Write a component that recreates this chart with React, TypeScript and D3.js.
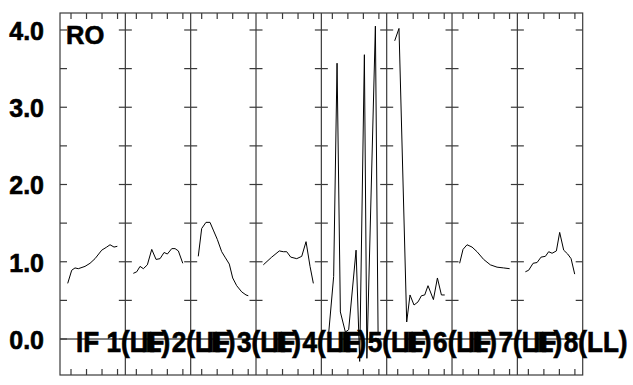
import React from "react";
import * as d3 from "d3";

// ---- data ----
const panelNames = ["1", "2", "3", "4", "5", "6", "7", "8"];
const labelPrefix = "IF ";
const labelSuffix = "(LL)";
const cornerLabel = "RO";
const yTickValues = [0, 0.5, 1, 1.5, 2, 2.5, 3, 3.5, 4];
const yLabelValues = [0, 1, 2, 3, 4];
const xTickValues = [11, 26.5, 42, 57.5];

// series: [x (local sample position), value]
const s1: [number, number][] = [[7.7,0.72],[11.7,0.89],[15,0.92],[18.3,0.91],[25,0.94],[30,0.98],[35,1.04],[41.7,1.15],[46.7,1.19],[50,1.22],[54,1.19],[57.3,1.2]];
const s2: [number, number][] = [[8,0.85],[11.4,0.87],[14.7,0.94],[18,0.91],[22,0.96],[26.4,1.16],[30.7,1.03],[34.7,1.04],[38.7,1.12],[42,1.1],[46.4,1.17],[49.7,1.17],[53,1.14],[57.4,0.98]];
const s3: [number, number][] = [[7.6,1.07],[11,1.43],[15.3,1.51],[19.3,1.51],[22.6,1.41],[26.6,1.29],[31,1.13],[34.3,1.06],[38.6,0.97],[42,0.79],[46,0.69],[51,0.61],[55.3,0.57],[57.6,0.56]];
const s4: [number, number][] = [[7.3,0.96],[15.7,1.06],[23.3,1.14],[27.3,1.13],[30.7,1.13],[34.7,1.06],[40.7,1.04],[45.7,1.07],[50,1.26],[54,0.94],[57.3,0.72]];
const s5: [number, number][] = [[7.3,0.07],[12.3,0.81],[15.7,3.57],[19,0.35],[24,0.09],[27.3,0.12],[34.7,1.15],[38.3,-0.29],[43,3.68],[45.5,-0.25],[54,4.05],[56.7,0.07]];
const s6: [number, number][] = [[8,3.86],[12.3,4.02],[20,0.22],[23.3,0.57],[27.3,0.44],[31.3,0.48],[34.7,0.56],[38,0.57],[41.3,0.69],[46.7,0.51],[50.7,0.79],[54.7,0.57],[58,0.57]];
const s7: [number, number][] = [[7.6,0.98],[11,1.16],[15,1.22],[20,1.19],[25,1.13],[31.6,1.03],[38.3,0.96],[45,0.93],[51.6,0.92],[57.6,0.91]];
const s8: [number, number][] = [[8,0.87],[11.3,0.89],[15.7,0.98],[19.7,0.99],[23.7,1.06],[28,1.07],[31.3,1.13],[34.7,1.11],[39,1.14],[42.3,1.38],[46.3,1.15],[50.3,1.1],[53.7,1.04],[57.3,0.84]];
const seriesList = [s1, s2, s3, s4, s5, s6, s7, s8];
const xDomain: [number, number] = [0, 65.3];
const yDomain: [number, number] = [-0.466, 4.22];

const W = 633, H = 385;
const left = 60, right = 582.7, top = 13, bottom = 375;
const FONT = "'Liberation Sans', Arial, Helvetica, sans-serif";
const FRAME = "#3a3a3a";

export default function App() {
  const band = d3.scaleBand<string>().domain(panelNames).range([left, right]).paddingInner(0).paddingOuter(0);
  const pw = band.bandwidth();
  const y = d3.scaleLinear().domain(yDomain).range([bottom, top]);

  const panels = panelNames.map((name, i) => {
    const x0 = band(name)!;
    const x = d3.scaleLinear().domain(xDomain).range([x0, x0 + pw]);
    const line = d3.line<[number, number]>().x(d => x(d[0])).y(d => y(d[1]));
    return { name, i, x0, x, path: line(seriesList[i]) || "" };
  });

  const dividers = d3.range(1, panelNames.length).map(i => left + i * pw);

  return (
    <svg width={W} height={H} style={{ position: "absolute", left: 0, top: 0, background: "#fff" }}>
      <rect x={0} y={0} width={W} height={H} fill="#fff" />
      {/* zero line */}
      <line x1={left} x2={right} y1={y(0)} y2={y(0)} stroke="#000" strokeWidth={1} />
      {/* frame */}
      <rect x={left} y={top} width={right - left} height={bottom - top} fill="none" stroke={FRAME} strokeWidth={1.2} />
      {dividers.map((dx, i) => (
        <line key={"d" + i} x1={dx} x2={dx} y1={top} y2={bottom} stroke={FRAME} strokeWidth={1.2} />
      ))}
      {/* y ticks */}
      {yTickValues.map(v => (
        <g key={"yt" + v}>
          <line x1={left} x2={left + 7} y1={y(v)} y2={y(v)} stroke={FRAME} strokeWidth={1.2} />
          <line x1={right - 7} x2={right} y1={y(v)} y2={y(v)} stroke={FRAME} strokeWidth={1.2} />
          {dividers.map((dx, i) => (
            <line key={i} x1={dx - 6.5} x2={dx + 6.5} y1={y(v)} y2={y(v)} stroke={FRAME} strokeWidth={1.2} />
          ))}
        </g>
      ))}
      {/* x ticks */}
      {panels.map(p => (
        <g key={"xt" + p.i}>
          {xTickValues.map(t => (
            <g key={t}>
              <line x1={p.x(t)} x2={p.x(t)} y1={top} y2={top + 6} stroke={FRAME} strokeWidth={1.2} />
              <line x1={p.x(t)} x2={p.x(t)} y1={bottom} y2={bottom - 6} stroke={FRAME} strokeWidth={1.2} />
            </g>
          ))}
        </g>
      ))}
      {/* y labels */}
      {yLabelValues.map(v => (
        <text key={"yl" + v} x={44} y={y(v) + 10} textAnchor="end" fontFamily={FONT} fontWeight="bold" fontSize={25} fill="#000" stroke="#000" strokeWidth={0.6}>
          {d3.format(".1f")(v)}
        </text>
      ))}
      {/* series */}
      {panels.map(p => (
        <path key={"s" + p.i} d={p.path} fill="none" stroke="#000" strokeWidth={1} strokeLinejoin="round" />
      ))}
      {/* panel labels */}
      {panels.map(p => (
        <text key={"pl" + p.i} transform={`translate(${p.x0 + 16},352) scale(0.9,1)`} fontFamily={FONT} fontWeight="bold" fontSize={29} fill="#000" stroke="#000" strokeWidth={0.7}>
          {labelPrefix + p.name + labelSuffix}
        </text>
      ))}
      <text x={66} y={43.5} fontFamily={FONT} fontWeight="bold" fontSize={25.5} fill="#000" stroke="#000" strokeWidth={0.6}>{cornerLabel}</text>
    </svg>
  );
}
